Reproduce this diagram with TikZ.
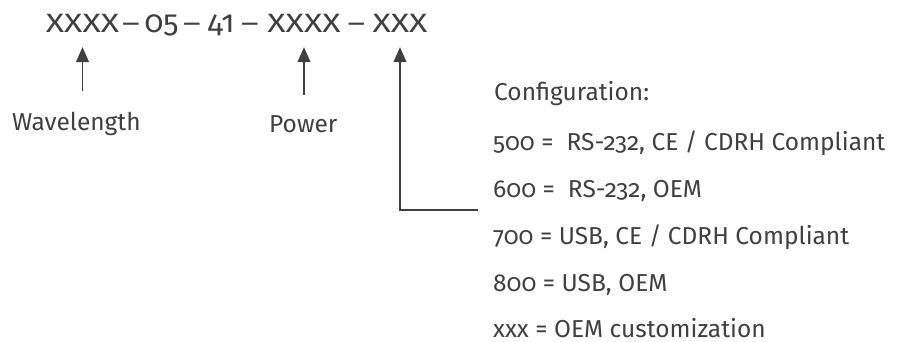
\documentclass[tikz,border=0pt]{standalone}
\usepackage{fontspec}
\setmainfont{Fira Sans}[Numbers=OldStyle]
\usepackage{graphicx}
\usepackage{tikz}
\usetikzlibrary{arrows.meta,%
                positioning}
\definecolor{ink}{HTML}{404040}
\newcommand{\widepart}[1]{\scalebox{1.28}[1]{#1}}

\begin{document}
\begin{tikzpicture}[x=1pt,y=-1pt,
		PartStyle/.style = {inner sep=0pt,anchor=base,text=ink,font=\fontsize{26.5}{30}\selectfont},
		NumStyle/.style = {PartStyle,font=\fontsize{31}{34}\selectfont},
		LabelStyle/.style = {inner sep=0pt,anchor=base west,text=ink,font=\fontsize{24.5}{29}\selectfont},
		EdgeStyle/.style = {draw=ink,line width=1.2pt,-{Triangle[width=13pt,length=15pt]}}]
		\useasboundingbox (0,0) rectangle (901,342);
		% part number
		\node[PartStyle] (wl) at (82.5,33) {\widepart{XXXX}};
		\node[PartStyle] (d1) at (131,33) {\widepart{--}};
		\node[NumStyle] (n05) at (161.5,33) {05};
		\node[PartStyle] (d2) at (192,33) {\widepart{--}};
		\node[NumStyle] (n41) at (221,33) {41};
		\node[PartStyle] (d3) at (250,33) {\widepart{--}};
		\node[PartStyle] (pw) at (304,33) {\widepart{XXXX}};
		\node[PartStyle] (d4) at (356.5,33) {\widepart{--}};
		\node[PartStyle] (cf) at (400,33) {\widepart{XXX}};
		% labels
		\node[LabelStyle] (wlab) at (12,130) {Wavelength};
		%\node[LabelStyle,below=of pw] (pwlab) {Power};
		\node[LabelStyle] (pwlab) at (269,132) {Power};
		\node[LabelStyle] (cfg) at (494,101) {Configuration:};
		\node[LabelStyle] (c500) at (493,150) {500 = \ RS-232, CE / CDRH Compliant};
		\node[LabelStyle] (c600) at (493,197) {600 = \ RS-232, OEM};
		\node[LabelStyle] (c700) at (493,244) {700 = USB, CE / CDRH Compliant};
		\node[LabelStyle] (c800) at (493,291) {800 = USB, OEM};
		\node[LabelStyle] (cxxx) at (493,337) {xxx = OEM customization};
		\coordinate (cfend) at (478,210);
		% arrows
		\draw[EdgeStyle,shorten <=20pt,shorten >=14pt] (wlab.north -| wl.south) -- (wl.south);
		\draw[EdgeStyle,shorten <=20pt,shorten >=14pt] (pwlab.north -| pw.south) -- (pw.south);
		\draw[EdgeStyle,shorten >=14pt] (cfend) -| (cf.south);
\end{tikzpicture}
\end{document}
